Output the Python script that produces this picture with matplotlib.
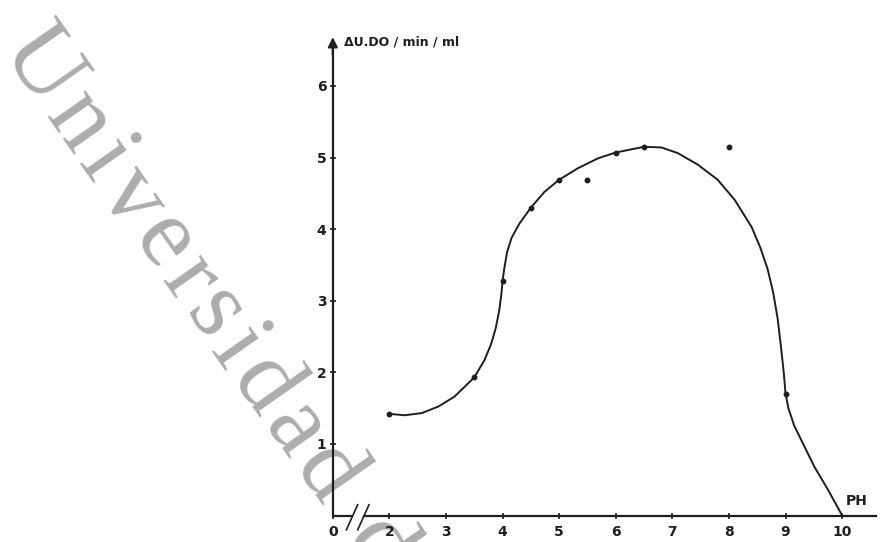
import matplotlib
matplotlib.use('Agg')
import matplotlib.pyplot as plt
import numpy as np
from matplotlib.font_manager import FontProperties
from matplotlib.textpath import text_to_path

# measured points (pH, activity)
ph_points = [2, 3.5, 4, 4.5, 5, 5.5, 6, 6.5, 8, 9]
act_points = [1.42, 1.93, 3.28, 4.30, 4.69, 4.69, 5.07, 5.15, 5.14, 1.70]

# hand-drawn curve
curve_ph = [2.0, 2.27, 2.57, 2.86, 3.15, 3.5, 3.68, 3.80, 3.88, 3.94, 3.98, 4.0, 4.03,
            4.08, 4.16, 4.30, 4.5, 4.74, 5.0, 5.33, 5.69, 6.0, 6.5, 6.81, 7.10, 7.45,
            7.80, 8.10, 8.40, 8.55, 8.68, 8.78, 8.86, 8.92, 8.97, 9.0, 9.05, 9.15, 9.28,
            9.51, 9.75, 10.0]
curve_act = [1.42, 1.40, 1.43, 1.52, 1.66, 1.93, 2.17, 2.40, 2.62, 2.86, 3.10, 3.28, 3.45,
             3.68, 3.88, 4.08, 4.30, 4.52, 4.69, 4.85, 4.99, 5.07, 5.15, 5.14, 5.06, 4.90,
             4.69, 4.41, 4.03, 3.75, 3.45, 3.12, 2.75, 2.35, 1.98, 1.70, 1.50, 1.26, 1.05,
             0.68, 0.36, 0.0]

x_ticks = [0, 2, 3, 4, 5, 6, 7, 8, 9, 10]
y_ticks = [1, 2, 3, 4, 5, 6]

# broken axis: 0..2 squeezed into one unit
def pos(x):
    x = np.asarray(x, dtype=float)
    return np.where(x >= 2, x - 1, x / 2)

ink = '#1e1e1e'
W, H = 888, 542
fig = plt.figure(figsize=(W / 100, H / 100), dpi=100)
ax = fig.add_axes([0, 0, 1, 1])
ax.set_xlim(-5.88, 9.81)
ax.set_ylim(-0.37, 7.2)

# watermark, letter by letter with extra tracking
wm = 'Universidad de Huelva'
wm_font = FontProperties(family='Liberation Serif', size=72)
ang = np.deg2rad(55)
d = np.array([np.cos(ang), np.sin(ang)])
start = np.array([0.0, 51.0])
s = 0.0
for ch in wm:
    px, py = start + s * d
    ax.text(px / W, 1 - py / H, ch, transform=fig.transFigure, rotation=-55,
            rotation_mode='anchor', ha='left', va='baseline',
            fontproperties=wm_font, color='#adadad', zorder=0.5, clip_on=False)
    w = text_to_path.get_text_width_height_descent(ch, wm_font, ismath=False)[0]
    s += w * 100 / 72 + 7

ax.plot(pos(curve_ph), curve_act, color=ink, lw=1.4, zorder=3)
ax.plot(pos(ph_points), act_points, 'o', color=ink, ms=3.2, zorder=4)

# axes drawn with spines through the origin
for sp in ['top', 'right']:
    ax.spines[sp].set_visible(False)
ax.spines['left'].set_position(('data', 0))
ax.spines['bottom'].set_position(('data', 0))
ax.spines['left'].set_bounds(0, 6.5)
ax.spines['bottom'].set_bounds(0.55, 9.6)
for sp in ['left', 'bottom']:
    ax.spines[sp].set_linewidth(1.6)
    ax.spines[sp].set_color(ink)
ax.plot([0, 0.35], [0, 0], color=ink, lw=1.6, solid_capstyle='butt')
# break marks
for bx in [0.35, 0.55]:
    ax.plot([bx - 0.11, bx + 0.09], [-0.2, 0.15], color=ink, lw=1.2)

ax.annotate('', xy=(9.83, 0), xytext=(9.5, 0),
            arrowprops=dict(arrowstyle='-|>', color=ink, lw=1.6, mutation_scale=14))
ax.annotate('', xy=(0, 6.72), xytext=(0, 6.4),
            arrowprops=dict(arrowstyle='-|>', color=ink, lw=1.6, mutation_scale=14))

ax.set_xticks(pos(x_ticks))
ax.set_xticklabels([str(t) for t in x_ticks])
ax.set_yticks(y_ticks)
ax.set_yticklabels([str(t) for t in y_ticks])
ax.tick_params(axis='both', direction='inout', length=5, width=1.2, color=ink,
               labelsize=10, labelcolor=ink)
ax.tick_params(axis='x', pad=4)
ax.tick_params(axis='y', pad=2)
for lab in ax.get_xticklabels() + ax.get_yticklabels():
    lab.set_fontweight('bold')

ax.text(0.2, 6.62, 'ΔU.DO / min / ml', fontsize=9, fontweight='bold', color=ink,
        va='center', ha='left')
ax.text(9.07, 0.1, 'PH', fontsize=10, fontweight='bold', color=ink, ha='left', va='bottom')

fig.savefig('out.png', dpi=100)
